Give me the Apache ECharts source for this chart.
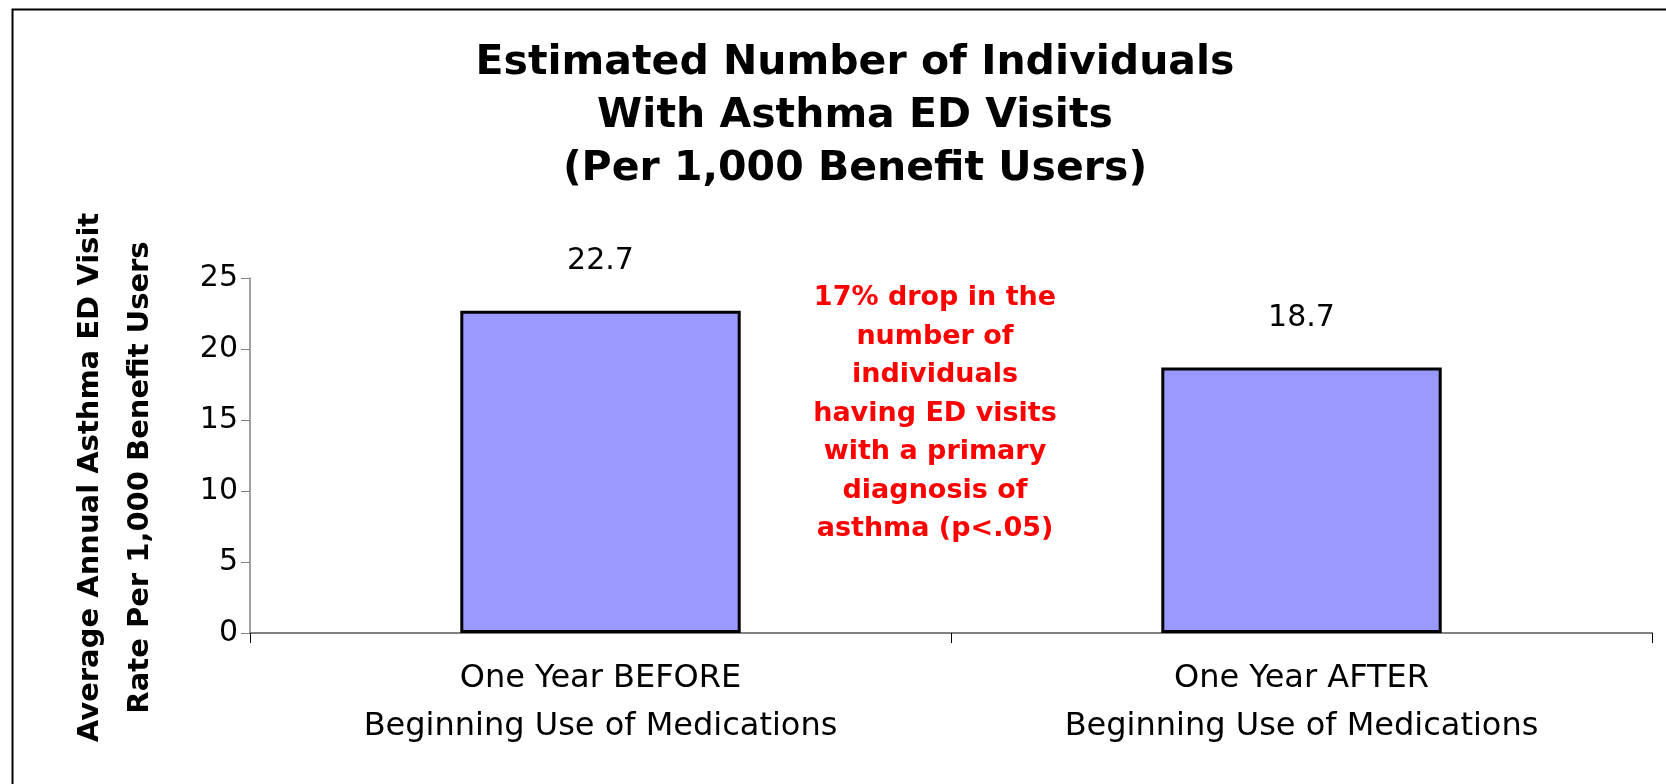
<!DOCTYPE html>
<html>
<head>
<meta charset="utf-8">
<script src="https://cdn.jsdelivr.net/npm/echarts@6/dist/echarts.min.js"></script>
<style>
  html, body { margin: 0; padding: 0; background: #fff; }
  #chart { width: 1666px; height: 784px; }
</style>
</head>
<body>
<div id="chart"></div>
<script>
const categories = [
  'One Year BEFORE\nBeginning Use of Medications',
  'One Year AFTER\nBeginning Use of Medications'
]
const rates = [22.7, 18.7]
const yTicks = [0, 5, 10, 15, 20, 25]

const titleText = 'Estimated Number of Individuals\nWith Asthma ED Visits\n(Per 1,000 Benefit Users)'
const yName = 'Average Annual Asthma ED Visit\nRate Per 1,000 Benefit Users'
const note = '17% drop in the\nnumber of\nindividuals\nhaving ED visits\nwith a primary\ndiagnosis of\nasthma (p<.05)'

const font = 'DejaVu Sans, Liberation Sans, Arial, sans-serif'

const chart = echarts.init(document.getElementById('chart'))

const option = {
  animation: false,
  title: {
    text: titleText,
    left: 850,
    textAlign: 'center',
    top: 32,
    textStyle: {
      fontFamily: font,
      fontSize: 41,
      fontWeight: 'bold',
      color: '#000',
      lineHeight: 53
    }
  },
  grid: { left: 250, right: 14, top: 278, bottom: 151 },
  xAxis: {
    type: 'category',
    data: categories,
    axisLine: { lineStyle: { color: '#808080', width: 2 } },
    axisTick: { show: true, length: 10, lineStyle: { color: '#000', width: 1 } },
    axisLabel: {
      fontFamily: font,
      fontSize: 32,
      color: '#000',
      lineHeight: 48,
      margin: 22
    }
  },
  yAxis: {
    type: 'value',
    min: yTicks[0],
    max: yTicks[yTicks.length - 1],
    interval: 5,
    name: yName,
    nameLocation: 'middle',
    nameRotate: 90,
    nameGap: 85,
    nameTextStyle: {
      fontFamily: font,
      fontSize: 29,
      fontWeight: 'bold',
      color: '#000',
      lineHeight: 50,
      padding: [0, 44, 0, 0]
    },
    splitLine: { show: false },
    axisLine: { show: true, lineStyle: { color: '#808080', width: 1.5 } },
    axisTick: { show: true, length: 9, lineStyle: { color: '#808080' } },
    axisLabel: {
      fontFamily: font,
      fontSize: 30,
      color: '#000',
      margin: 12
    }
  },
  series: [
    {
      type: 'bar',
      data: rates,
      barWidth: '40%',
      itemStyle: {
        color: '#9999FF',
        borderColor: '#000',
        borderWidth: 3
      },
      label: {
        show: true,
        position: 'top',
        distance: 34,
        fontFamily: font,
        fontSize: 30,
        color: '#000',
        formatter: p => p.value.toFixed(1)
      }
    }
  ],
  graphic: [
    {
      type: 'rect',
      left: 10,
      top: 7,
      shape: { width: 1700, height: 800 },
      style: { fill: 'none', stroke: '#000', lineWidth: 2 },
      silent: true
    },
    {
      type: 'text',
      x: 935,
      y: 279,
      style: {
        text: note,
        fontFamily: font,
        fontSize: 27,
        fontWeight: 'bold',
        fill: '#FF0000',
        textAlign: 'center',
        textVerticalAlign: 'top',
        lineHeight: 38.5
      }
    }
  ]
}

chart.setOption(option)
</script>
</body>
</html>
